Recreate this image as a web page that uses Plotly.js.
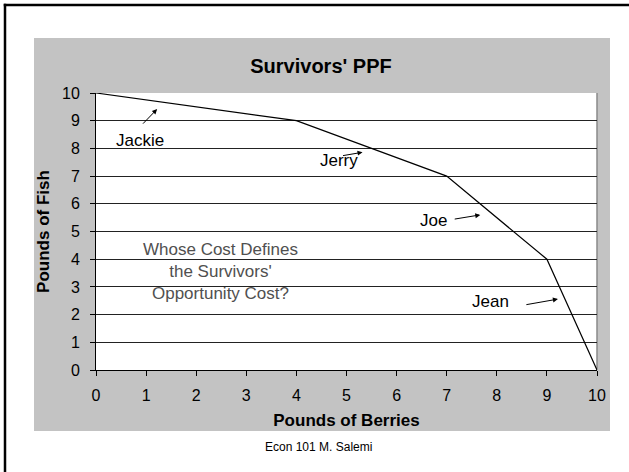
<!DOCTYPE html>
<html>
<head>
<meta charset="utf-8">
<script src="https://cdn.plot.ly/plotly-3.0.1.min.js"></script>
<style>
  html, body { margin: 0; padding: 0; background: #ffffff; }
  #chart { width: 629px; height: 472px; }
</style>
</head>
<body>
<div id="chart"></div>
<script>
// ---- data ----
const berries = [0, 4, 7, 9, 10];
const fish = [10, 9, 7, 4, 0];
const tickValues = [0, 1, 2, 3, 4, 5, 6, 7, 8, 9, 10];
const tickLabels = ["0", "1", "2", "3", "4", "5", "6", "7", "8", "9", "10"];
const survivorNames = ["Jackie", "Jerry", "Joe", "Jean"];
const chartTitle = "Survivors' PPF";
const xTitle = "Pounds of Berries";
const yTitle = "Pounds of Fish";
const questionText = "Whose Cost Defines<br>the Survivors'<br>Opportunity Cost?";
const footerText = "Econ 101 M. Salemi";

// ---- layout geometry (pixels) ----
const W = 629, H = 472;
const M = { l: 96, r: 32, t: 93, b: 102 };
const pw = W - M.l - M.r, ph = H - M.t - M.b;
const px = v => (v - M.l) / pw;            // pixel x -> paper x
const py = v => (H - M.b - v) / ph;        // pixel y -> paper y

const FONT = "Liberation Sans, Arial, sans-serif";

// name label positions and arrow (tail -> head) in data units
const labelPos = [
  { x: 0.88, y: 8.27, tx: 0.91, ty: 8.84, hx: 1.22, hy: 9.42 },
  { x: 4.85, y: 7.58, tx: 4.90, ty: 7.73, hx: 5.32, hy: 7.86 },
  { x: 6.74, y: 5.39, tx: 7.13, ty: 5.44, hx: 7.67, hy: 5.60 },
  { x: 7.88, y: 2.47, tx: 8.56, ty: 2.35, hx: 9.22, hy: 2.56 }
];

const annotations = [];
survivorNames.forEach((name, i) => {
  const p = labelPos[i];
  annotations.push({
    x: p.x, y: p.y, xref: 'x', yref: 'y', text: name, showarrow: false,
    xanchor: 'center', yanchor: 'middle',
    font: { family: FONT, size: 17, color: '#000000' }
  });
  annotations.push({
    x: p.hx, y: p.hy, xref: 'x', yref: 'y', ax: p.tx, ay: p.ty,
    axref: 'x', ayref: 'y', text: '', showarrow: true,
    arrowhead: 2, arrowsize: 1, arrowwidth: 1, arrowcolor: '#000000'
  });
});
annotations.push({
  x: 2.475, y: 3.57, xref: 'x', yref: 'y', text: questionText, showarrow: false,
  xanchor: 'center', yanchor: 'middle', align: 'center',
  font: { family: FONT, size: 17, color: '#505050' }
});
annotations.push({
  x: px(318), y: py(447), xref: 'paper', yref: 'paper', text: footerText,
  showarrow: false, xanchor: 'center', yanchor: 'middle',
  font: { family: FONT, size: 12, color: '#000000' }
});

const shapes = [
  // outer slide frame: left and top edges only (others are off-picture)
  { type: 'line', xref: 'paper', yref: 'paper', layer: 'below',
    x0: px(5), x1: px(5), y0: py(472), y1: py(3.75),
    line: { color: '#000000', width: 2.5 } },
  { type: 'line', xref: 'paper', yref: 'paper', layer: 'below',
    x0: px(3.75), x1: px(629), y0: py(5), y1: py(5),
    line: { color: '#000000', width: 2.5 } },
  // grey chart panel
  { type: 'rect', xref: 'paper', yref: 'paper', layer: 'below',
    x0: px(34), x1: px(610), y0: py(431), y1: py(38),
    line: { width: 0 }, fillcolor: '#c3c3c3' },
  // white plot area
  { type: 'rect', xref: 'paper', yref: 'paper', layer: 'below',
    x0: 0, x1: 1, y0: 0, y1: 1,
    line: { width: 0 }, fillcolor: '#ffffff' },
  // right border of plot area
  { type: 'line', xref: 'paper', yref: 'paper', layer: 'below',
    x0: 1, x1: 1, y0: 0, y1: 1,
    line: { color: '#8a8a8a', width: 1.5 } }
];

const trace = {
  x: berries, y: fish, type: 'scatter', mode: 'lines',
  line: { color: '#000000', width: 1.2 },
  hoverinfo: 'skip', showlegend: false, cliponaxis: false
};

const layout = {
  width: W, height: H,
  margin: M,
  paper_bgcolor: '#ffffff',
  plot_bgcolor: 'rgba(0,0,0,0)',
  showlegend: false,
  title: {
    text: chartTitle, xref: 'container', yref: 'container',
    x: 321 / W, y: 1 - 66 / H, xanchor: 'center', yanchor: 'middle',
    font: { family: FONT, size: 20, weight: 'bold', color: '#000000' }
  },
  xaxis: {
    range: [0, 10], fixedrange: true,
    tickmode: 'array', tickvals: tickValues, ticktext: tickLabels,
    ticks: 'outside', ticklen: 5, tickcolor: '#000000', tickwidth: 1,
    showline: true, linecolor: '#000000', linewidth: 1,
    showgrid: false, zeroline: false,
    tickfont: { family: FONT, size: 16, color: '#000000' },
    ticklabelstandoff: 6,
    title: { text: xTitle, standoff: 10,
      font: { family: FONT, size: 17, weight: 'bold', color: '#000000' } }
  },
  yaxis: {
    range: [0, 10], fixedrange: true,
    tickmode: 'array', tickvals: tickValues, ticktext: tickLabels,
    ticks: 'outside', ticklen: 5, tickcolor: '#000000', tickwidth: 1,
    showline: true, linecolor: '#000000', linewidth: 1,
    showgrid: true, gridcolor: '#222222', gridwidth: 1, zeroline: false,
    tickfont: { family: FONT, size: 16, color: '#000000' },
    ticklabelstandoff: 7,
    title: { text: yTitle, standoff: 8,
      font: { family: FONT, size: 17, weight: 'bold', color: '#000000' } }
  },
  shapes: shapes,
  annotations: annotations
};

Plotly.newPlot('chart', [trace], layout, { displayModeBar: false, staticPlot: true });
</script>
</body>
</html>
